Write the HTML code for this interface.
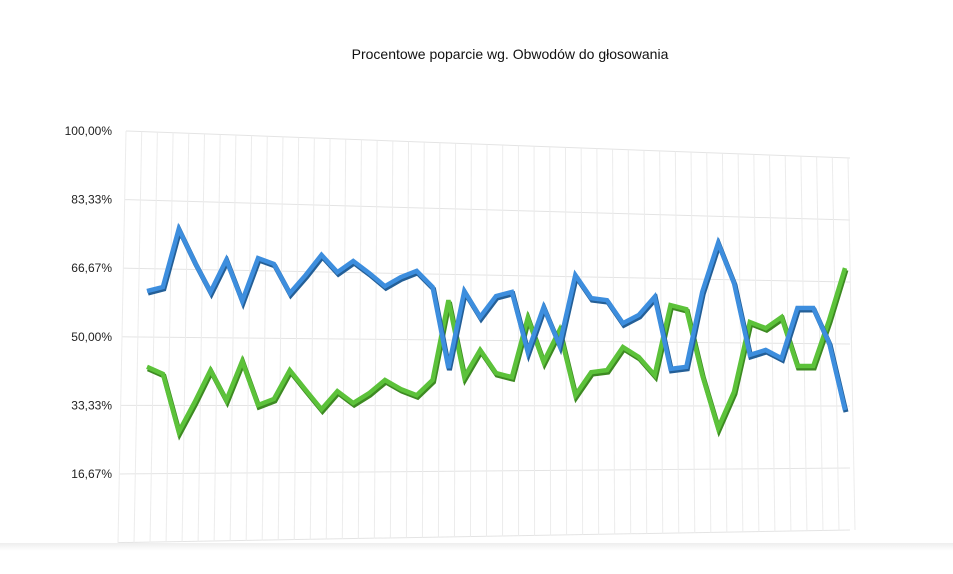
<!DOCTYPE html>
<html><head><meta charset="utf-8"><style>
html,body{margin:0;padding:0;background:#fff;}
svg{display:block;font-family:"Liberation Sans",sans-serif;}
</style></head><body>
<svg id="chart" width="953" height="574">
<defs><linearGradient id="fl" x1="0" y1="0" x2="0" y2="1"><stop offset="0" stop-color="#eeeeee"/><stop offset="1" stop-color="#ffffff"/></linearGradient></defs>
<text x="510" y="59" text-anchor="middle" font-size="14" fill="#111">Procentowe poparcie wg. Obwodów do głosowania</text>
<g id="grid"></g>
<g id="ylabels"></g>
<g id="series"></g>
</svg>
<script>
const tickValues=[0,16.67,33.33,50,66.67,83.33,100];
const tickLabels=["","16,67%","33,33%","50,00%","66,67%","83,33%","100,00%"];
const blueValues=[61.1,62.1,76.2,68.2,60.9,68.7,58.7,69.1,67.7,60.6,65.0,69.9,65.7,68.4,65.5,62.3,64.5,66.0,62.1,42.4,61.1,54.8,59.9,60.9,46.3,57.2,48.0,65.0,59.4,58.9,53.3,55.3,59.7,42.2,42.7,60.9,72.8,63.1,45.6,46.8,44.8,57.0,57.0,48.5,32.2];
const greenValues=[42.7,41.0,26.9,34.1,41.9,34.6,44.1,33.4,34.9,41.9,37.1,32.4,36.8,33.9,36.3,39.5,37.3,35.8,39.5,58.9,40.2,46.8,41.2,40.2,54.6,43.9,51.6,35.8,41.4,41.9,47.5,45.1,40.7,57.7,56.7,40.7,27.8,36.6,53.6,52.1,54.8,42.9,42.9,54.1,66.7];
const NS="http://www.w3.org/2000/svg";
const n=blueValues.length;
function xs(i){return 147+i*(845-147)/(n-1);}
function ys(v){return 542.6-v*4.116;}
function yR(v){return 530+(158-530)*v/100;}
const grid=document.getElementById('grid');
for(let k=0;k<tickValues.length;k++){
  const v=tickValues[k];
  const l=document.createElementNS(NS,'line');
  
  
  const xl=118+8*v/100;
  l.setAttribute('x1',xl);l.setAttribute('y1',ys(v));
  l.setAttribute('x2',850);l.setAttribute('y2',yR(v));
  l.setAttribute('stroke','#e4e4e4');l.setAttribute('stroke-width','1');
  grid.appendChild(l);
  const t=document.createElementNS(NS,'text');
  
  
  t.setAttribute('x',112);t.setAttribute('y',ys(v)+4);
  t.setAttribute('text-anchor','end');t.setAttribute('font-size','12');t.setAttribute('fill','#222');
  t.textContent=tickLabels[k];
  document.getElementById('ylabels').appendChild(t);
}
for(let i=0;i<=46;i++){
  const xt=126+i*(848-126)/46, xb=118+i*(855-118)/46;
  const yt=131+(158-131)*i/46, yb=543-(13)*i/46;
  const l=document.createElementNS(NS,'line');
  
  
  l.setAttribute('x1',xt);l.setAttribute('y1',yt);l.setAttribute('x2',xb);l.setAttribute('y2',yb);
  l.setAttribute('stroke','#ececec');l.setAttribute('stroke-width','1');
  grid.appendChild(l);
}
const floor=document.createElementNS(NS,'rect');


floor.setAttribute('x',0);floor.setAttribute('y',543);floor.setAttribute('width',953);floor.setAttribute('height',8);floor.setAttribute('fill','url(#fl)');
grid.appendChild(floor);
function draw(vals,dark,light,name){
  const s=document.createElementNS(NS,'polyline');
  
  
  s.setAttribute('points',vals.map((v,i)=>(xs(i)+1)+','+(ys(v)+2)).join(' '));
  s.setAttribute('fill','none');s.setAttribute('stroke',dark);s.setAttribute('stroke-width','5');s.setAttribute('stroke-linejoin','miter');
  document.getElementById('series').appendChild(s);
  const p=document.createElementNS(NS,'polyline');
  
  
  p.setAttribute('points',vals.map((v,i)=>xs(i)+','+ys(v)).join(' '));
  p.setAttribute('fill','none');p.setAttribute('stroke',light);p.setAttribute('stroke-width','4.5');p.setAttribute('stroke-linejoin','miter');
  document.getElementById('series').appendChild(p);
}
draw(greenValues,'#3d8a22','#5cc23a','green-series-line');
draw(blueValues,'#245f97','#3d8ede','blue-series-line');
</script>
</body></html>
